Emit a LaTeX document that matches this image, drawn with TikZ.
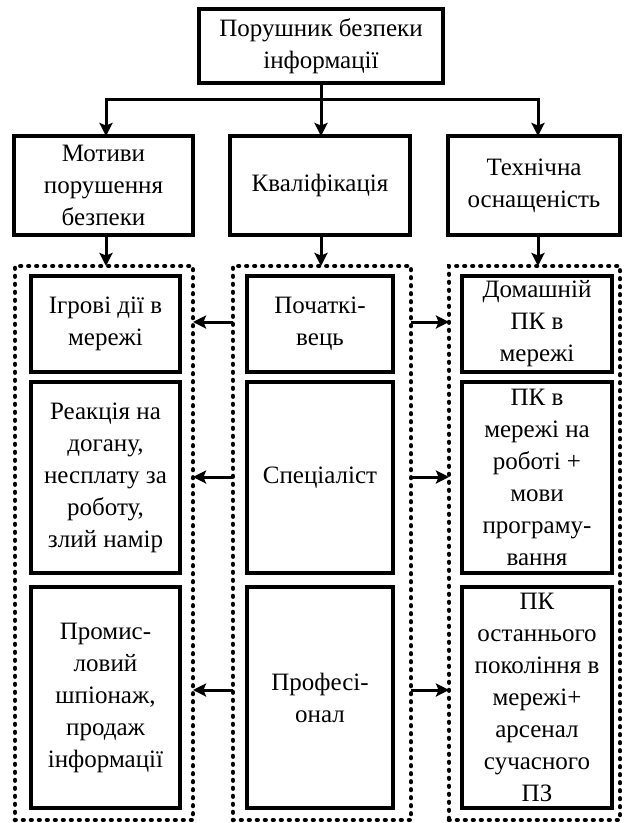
\documentclass[tikz,border=0pt]{standalone}
\usepackage{fontspec}
\setmainfont{Liberation Serif}
\usetikzlibrary{arrows.meta}
\begin{document}
\begin{tikzpicture}[x=1pt,y=-1pt,
  box/.style={draw, line width=3.2pt, align=center, inner sep=1pt, outer sep=0pt,
    font=\fontsize{25}{32}\selectfont},
  grp/.style={draw, line width=4.6pt, dash pattern=on 0.6pt off 7.4pt, line cap=round,
    outer sep=0pt, inner sep=0pt},
  conn/.style={line width=3pt, line cap=rect},
  arr/.style={line width=3pt, -{Stealth[length=13pt,width=13pt,inset=2.5pt]}}]
\useasboundingbox (0,0) rectangle (624,823);

% top
\node[box, minimum width=244pt, minimum height=74pt] (top) at (321,46) {Порушник безпеки\\інформації};

% second row
\node[box, minimum width=179pt, minimum height=99pt] (hl) at (103.5,185.5) {Мотиви\\порушення\\безпеки};
\node[box, minimum width=180pt, minimum height=99pt] (hm) at (320,185.5) {Кваліфікація};
\node[box, minimum width=172pt, minimum height=99pt] (hr) at (534,185.5) {Технічна\\оснащеність};

% groups
\node[grp, minimum width=178pt, minimum height=554pt] (gl) at (104,543) {};
\node[grp, minimum width=178pt, minimum height=554pt] (gm) at (322,543) {};
\node[grp, minimum width=171pt, minimum height=554pt] (gr) at (534.5,543) {};

% inner boxes left
\node[box, minimum width=149pt, minimum height=96pt] (l1) at (105.5,324) {Ігрові дії в\\мережі};
\node[box, minimum width=149pt, minimum height=191pt] (l2) at (105.5,477.5) {Реакція на\\догану,\\несплату за\\роботу,\\злий намір};
\node[box, minimum width=149pt, minimum height=221pt] (l3) at (105.5,697.5) {Промис-\\ловий\\шпіонаж,\\продаж\\інформації};
% inner boxes middle
\node[box, minimum width=146pt, minimum height=96pt] (m1) at (320,324) {Початкі-\\вець};
\node[box, minimum width=146pt, minimum height=191pt] (m2) at (320,477.5) {Спеціаліст};
\node[box, minimum width=146pt, minimum height=221pt] (m3) at (320,697.5) {Професі-\\онал};
% inner boxes right
\node[box, minimum width=150pt, minimum height=96pt] (r1) at (537,324) {Домашній\\ПК в\\мережі};
\node[box, minimum width=150pt, minimum height=191pt] (r2) at (537,477.5) {ПК в\\мережі на\\роботі +\\мови\\програму-\\вання};
\node[box, minimum width=150pt, minimum height=221pt] (r3) at (537,697.5) {ПК\\останнього\\покоління в\\мережі+\\арсенал\\сучасного\\ПЗ};

% connectors from top
\coordinate (jl) at (106,99);
\coordinate (jr) at (538,99);
\draw[conn] (top.south) -- (top.south |- jl);
\draw[conn] (jl) -- (jr);
\draw[arr] (jl) -- (jl |- hl.north);
\draw[arr] (top.south |- jl) -- (top.south |- hm.north);
\draw[arr] (jr) -- (jr |- hr.north);

% row 2 to groups
\draw[arr] (jl |- hl.south) -- (jl |- gl.north);
\draw[arr] (top.south |- hm.south) -- (top.south |- gm.north);
\draw[arr] (jr |- hr.south) -- (jr |- gr.north);

% horizontal arrows
\foreach \yy in {322,477,690}{
  \draw[arr] (gm.west |- 0,\yy) -- (gl.east |- 0,\yy);
  \draw[arr] (gm.east |- 0,\yy) -- (gr.west |- 0,\yy);
}
\end{tikzpicture}
\end{document}
